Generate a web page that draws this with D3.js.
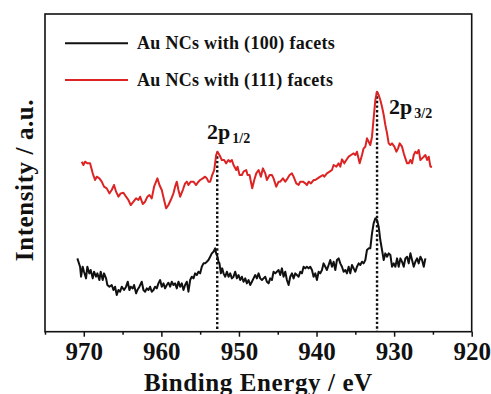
<!DOCTYPE html>
<html>
<head>
<meta charset="utf-8">
<script src="https://cdn.jsdelivr.net/npm/d3@7"></script>
<style>
  html, body { margin: 0; padding: 0; background: #fff; }
  svg text { font-family: "Liberation Serif", "Times New Roman", serif; font-weight: bold; }
</style>
</head>
<body>
<div id="chart"></div>
<script>
// DATA (binding energy in eV, intensity in a.u.)
const seriesNames = ["Au NCs with (100) facets", "Au NCs with (111) facets"];
const seriesColors = ["#111111", "#dd2424"];

const facets100 = [
  [970.83,22.5],[970.48,20.0],[970.35,17.0],[970.14,20.0],[969.97,18.5],[969.71,16.5],[969.54,20.0],[969.28,18.0],
  [969.11,19.0],[968.85,16.5],[968.68,18.5],[968.42,17.0],[968.25,18.0],[967.99,16.0],[967.82,18.5],[967.56,16.0],
  [967.39,18.0],[967.13,16.5],[966.96,14.5],[966.70,14.0],[966.40,14.5],[966.18,13.0],[965.97,14.0],[965.75,11.5],
  [965.54,13.0],[965.32,12.5],[965.11,14.0],[964.81,13.0],[964.55,14.0],[964.33,15.5],[964.12,13.0],[963.95,14.0],
  [963.69,13.5],[963.52,14.5],[963.26,12.0],[963.09,13.0],[962.83,14.0],[962.53,15.5],[962.31,13.0],[962.10,12.5],
  [961.88,13.5],[961.67,13.0],[961.45,14.0],[961.24,12.5],[961.02,13.0],[960.81,14.0],[960.59,13.5],[960.38,15.0],
  [960.16,16.0],[959.95,14.0],[959.73,15.0],[959.52,13.5],[959.30,14.5],[959.09,15.2],[958.87,14.0],[958.66,15.5],
  [958.44,14.5],[958.23,15.0],[958.01,13.5],[957.80,15.5],[957.58,14.0],[957.37,15.0],[957.15,13.0],[956.94,14.5],
  [956.72,15.5],[956.51,12.5],[956.29,16.0],[956.08,17.0],[955.86,16.5],[955.65,18.0],[955.43,17.5],[955.22,18.5],
  [955.00,18.0],[954.79,20.0],[954.57,21.0],[954.36,21.0],[954.14,21.5],[953.93,22.0],[953.71,23.0],[953.50,24.0],
  [953.28,24.5],[953.07,25.5],[952.94,24.0],[952.77,23.0],[952.64,21.5],[952.51,21.0],[952.33,18.0],[952.16,19.5],
  [951.99,18.0],[951.77,17.0],[951.56,18.5],[951.34,17.0],[951.13,18.0],[950.91,16.5],[950.70,17.0],[950.48,18.5],
  [950.27,16.5],[950.05,17.5],[949.84,16.0],[949.62,17.0],[949.41,15.5],[949.19,16.5],[948.98,15.0],[948.76,16.0],
  [948.55,14.5],[948.33,15.5],[948.12,16.5],[947.90,17.5],[947.69,16.5],[947.47,18.0],[947.26,16.5],[947.04,16.0],
  [946.83,16.5],[946.61,17.0],[946.40,15.5],[946.18,15.0],[945.97,16.5],[945.75,16.0],[945.54,18.5],[945.32,18.0],
  [945.11,18.5],[944.89,19.0],[944.68,17.5],[944.46,19.5],[944.25,17.0],[944.03,18.5],[943.82,16.0],[943.60,14.5],
  [943.39,17.0],[943.17,18.0],[942.96,16.5],[942.74,18.0],[942.53,17.5],[942.31,17.0],[942.10,18.5],[941.88,18.0],
  [941.67,20.0],[941.45,19.5],[941.24,20.0],[941.02,19.5],[940.81,20.0],[940.59,19.0],[940.38,17.0],[940.16,18.0],
  [939.95,16.0],[939.73,18.5],[939.52,18.0],[939.30,19.0],[939.09,21.0],[938.87,20.0],[938.66,19.0],[938.44,20.5],
  [938.23,22.0],[938.01,20.0],[937.80,21.5],[937.58,19.0],[937.37,22.0],[937.15,22.5],[936.94,21.0],[936.72,20.0],
  [936.51,18.5],[936.29,19.0],[936.08,18.0],[935.86,20.0],[935.65,18.0],[935.43,20.5],[935.22,19.5],[935.00,18.5],
  [934.79,20.0],[934.57,21.0],[934.36,20.5],[934.14,21.5],[933.93,21.0],[933.71,22.0],[933.50,25.0],[933.28,25.5],
  [933.07,25.5],[932.85,30.0],[932.64,33.0],[932.42,34.5],[932.21,34.0],[931.99,32.0],[931.78,28.0],[931.56,25.0],
  [931.34,22.0],[931.13,24.0],[930.91,23.0],[930.70,24.0],[930.48,23.5],[930.27,20.0],[930.05,21.0],[929.84,20.0],
  [929.62,22.5],[929.41,20.0],[929.19,22.5],[928.98,21.5],[928.76,20.0],[928.55,22.5],[928.33,23.0],[928.12,21.0],
  [927.90,24.0],[927.69,22.0],[927.47,20.0],[927.26,21.5],[927.04,22.5],[926.83,21.0],[926.61,23.0],[926.40,22.0],
  [926.18,20.0],[925.97,22.5]
];

const facets111 = [
  [970.27,51.5],[970.05,50.5],[969.84,51.5],[969.54,51.0],[969.19,51.0],[968.85,48.0],[968.55,46.0],[968.33,47.0],
  [967.99,46.5],[967.69,45.5],[967.39,44.0],[967.04,43.5],[966.70,42.0],[966.40,43.0],[966.10,44.5],[965.84,42.5],
  [965.54,41.0],[965.24,42.0],[964.89,42.2],[964.55,41.0],[964.25,40.0],[963.95,38.5],[963.60,39.5],[963.26,40.5],
  [962.96,40.0],[962.74,41.0],[962.40,38.8],[962.10,39.5],[961.80,41.0],[961.54,41.5],[961.24,40.5],[960.94,44.0],
  [960.68,45.5],[960.51,46.5],[960.25,44.5],[959.95,43.0],[959.65,40.0],[959.39,37.5],[959.09,38.5],[958.79,40.0],
  [958.44,42.0],[958.23,44.0],[958.01,45.5],[957.80,43.0],[957.58,41.0],[957.24,43.0],[956.94,45.0],[956.72,45.5],
  [956.51,44.5],[956.21,45.5],[955.86,45.5],[955.52,44.5],[955.22,45.5],[955.00,46.0],[954.66,46.5],[954.36,47.0],
  [954.14,46.5],[953.93,45.5],[953.71,45.5],[953.45,47.5],[953.19,49.0],[952.94,53.5],[952.77,54.5],[952.51,53.5],
  [952.21,52.0],[951.91,52.0],[951.66,51.0],[951.36,52.0],[951.13,51.5],[950.91,52.0],[950.70,50.5],[950.35,49.0],
  [950.18,50.0],[949.92,47.5],[949.62,47.5],[949.41,48.5],[949.06,49.0],[948.89,47.5],[948.63,47.5],[948.46,45.5],
  [948.29,43.5],[948.03,46.0],[947.77,48.0],[947.47,49.0],[947.17,47.0],[946.91,49.5],[946.61,48.0],[946.40,46.0],
  [946.05,47.5],[945.75,47.5],[945.54,46.5],[945.19,44.0],[944.89,45.5],[944.68,45.5],[944.33,46.5],[944.03,45.5],
  [943.73,46.5],[943.47,47.5],[943.17,48.0],[942.96,47.0],[942.61,45.0],[942.31,44.5],[942.10,45.5],[941.75,45.5],
  [941.45,45.0],[941.24,44.5],[941.02,45.5],[940.72,45.0],[940.38,46.0],[940.16,46.0],[939.86,46.5],[939.52,47.0],
  [939.17,47.5],[939.00,47.0],[938.66,48.0],[938.32,48.5],[938.01,49.0],[937.80,50.5],[937.45,50.0],[937.15,51.0],
  [936.94,50.0],[936.72,52.2],[936.42,51.0],[936.16,52.0],[935.86,53.0],[935.56,53.5],[935.22,54.0],[935.00,53.5],
  [934.79,54.5],[934.44,51.0],[934.14,53.5],[933.93,55.5],[933.71,56.0],[933.50,58.5],[933.28,57.5],[933.07,56.5],
  [932.85,59.0],[932.64,64.5],[932.42,70.0],[932.21,72.5],[931.99,71.5],[931.78,70.0],[931.56,68.0],[931.34,65.5],
  [931.13,62.5],[930.91,60.0],[930.70,57.0],[930.48,56.5],[930.27,57.0],[929.97,56.0],[929.71,54.5],[929.49,55.5],
  [929.28,57.0],[928.98,56.0],[928.76,54.0],[928.55,52.5],[928.33,51.0],[928.12,51.0],[927.90,52.0],[927.69,51.0],
  [927.47,53.5],[927.26,54.5],[927.04,54.0],[926.83,55.0],[926.61,52.0],[926.40,52.5],[926.18,53.0],[925.97,53.5],
  [925.75,52.0],[925.54,53.0],[925.32,50.0],[925.11,50.0]
];

const majorTicks = [970, 960, 950, 940, 930, 920];
const minorTicks = [975, 965, 955, 945, 935, 925];

// peak markers: energy, top intensity of the dotted line, label
const peakEnergies = [952.8, 932.2];
const peakTops = [54.5, 72.5];
const peakMain = ["2p", "2p"];
const peakSubs = ["1/2", "3/2"];

const width = 491;
const height = 394;
const margin = { top: 14, right: 19.3, bottom: 62.3, left: 45 };
const innerW = width - margin.left - margin.right;
const innerH = height - margin.top - margin.bottom;

const svg = d3.select("#chart").append("svg")
  .attr("width", width)
  .attr("height", height);

const g = svg.append("g").attr("transform", `translate(${margin.left},${margin.top})`);

const xScale = d3.scaleLinear().domain([975, 920]).range([0, innerW]);
const yScale = d3.scaleLinear().domain([0.5, 95.8]).range([innerH, 0]);

// AXES
const xAxisMajor = d3.axisBottom(xScale).tickValues(majorTicks).tickSize(5).tickPadding(5.5).tickFormat(d3.format("d"));
const xAxisMinor = d3.axisBottom(xScale).tickValues(minorTicks).tickSize(3).tickFormat("");

const axMinor = g.append("g").attr("transform", `translate(0,${innerH})`).call(xAxisMinor);
const axMajor = g.append("g").attr("transform", `translate(0,${innerH})`).call(xAxisMajor);
[axMinor, axMajor].forEach((ax) => {
  ax.select(".domain").remove();
  ax.selectAll("line").attr("stroke", "#111").attr("stroke-width", 1.5);
});
axMajor.selectAll("text")
  .attr("fill", "#111")
  .attr("font-size", 25)
  .style("font-family", "'Liberation Serif', 'Times New Roman', serif")
  .style("font-weight", "bold");

// FRAME
g.append("rect")
  .attr("x", 0).attr("y", 0)
  .attr("width", innerW).attr("height", innerH)
  .attr("fill", "none")
  .attr("stroke", "#111")
  .attr("stroke-width", 1.6);

// DOTTED PEAK LINES
g.selectAll(".peakLine")
  .data(peakEnergies)
  .join("line")
  .attr("class", "peakLine")
  .attr("x1", (d) => xScale(d))
  .attr("x2", (d) => xScale(d))
  .attr("y1", (d, i) => yScale(peakTops[i]))
  .attr("y2", innerH)
  .attr("stroke", "#111")
  .attr("stroke-width", 2.4)
  .attr("stroke-dasharray", "2.4,2.2");

// SPECTRA
const line = d3.line().x((d) => xScale(d[0])).y((d) => yScale(d[1]));
[facets100, facets111].forEach((series, i) => {
  g.append("path")
    .datum(series)
    .attr("d", line)
    .attr("fill", "none")
    .attr("stroke", seriesColors[i])
    .attr("stroke-width", 2)
    .attr("stroke-linejoin", "round");
});

// PEAK LABELS
const labelPos = [[207, 139.3], [389, 114.3]];
peakEnergies.forEach((e, i) => {
  const t = svg.append("text")
    .attr("x", labelPos[i][0])
    .attr("y", labelPos[i][1])
    .attr("fill", "#111")
    .attr("font-size", 22);
  t.append("tspan").text(peakMain[i]);
  t.append("tspan")
    .attr("dx", 2)
    .attr("dy", 4)
    .attr("font-size", 14)
    .text(peakSubs[i]);
});

// LEGEND
const legendY = [43.3, 80];
const legend = svg.append("g");
seriesNames.forEach((name, i) => {
  legend.append("line")
    .attr("x1", 65).attr("x2", 128)
    .attr("y1", legendY[i]).attr("y2", legendY[i])
    .attr("stroke", seriesColors[i])
    .attr("stroke-width", 2);
  legend.append("text")
    .attr("x", 137)
    .attr("y", legendY[i] + 6)
    .attr("fill", "#111")
    .attr("font-size", 18)
    .attr("letter-spacing", 0.3)
    .text(name);
});

// AXIS TITLES
svg.append("text")
  .attr("x", margin.left + innerW / 2)
  .attr("y", 391)
  .attr("text-anchor", "middle")
  .attr("fill", "#111")
  .attr("font-size", 25)
  .attr("letter-spacing", 0.6)
  .text("Binding Energy / eV");

svg.append("text")
  .attr("transform", "translate(33,180) rotate(-90)")
  .attr("text-anchor", "middle")
  .attr("fill", "#111")
  .attr("font-size", 25)
  .attr("letter-spacing", 0.6)
  .text("Intensity / a.u.");
</script>
</body>
</html>
